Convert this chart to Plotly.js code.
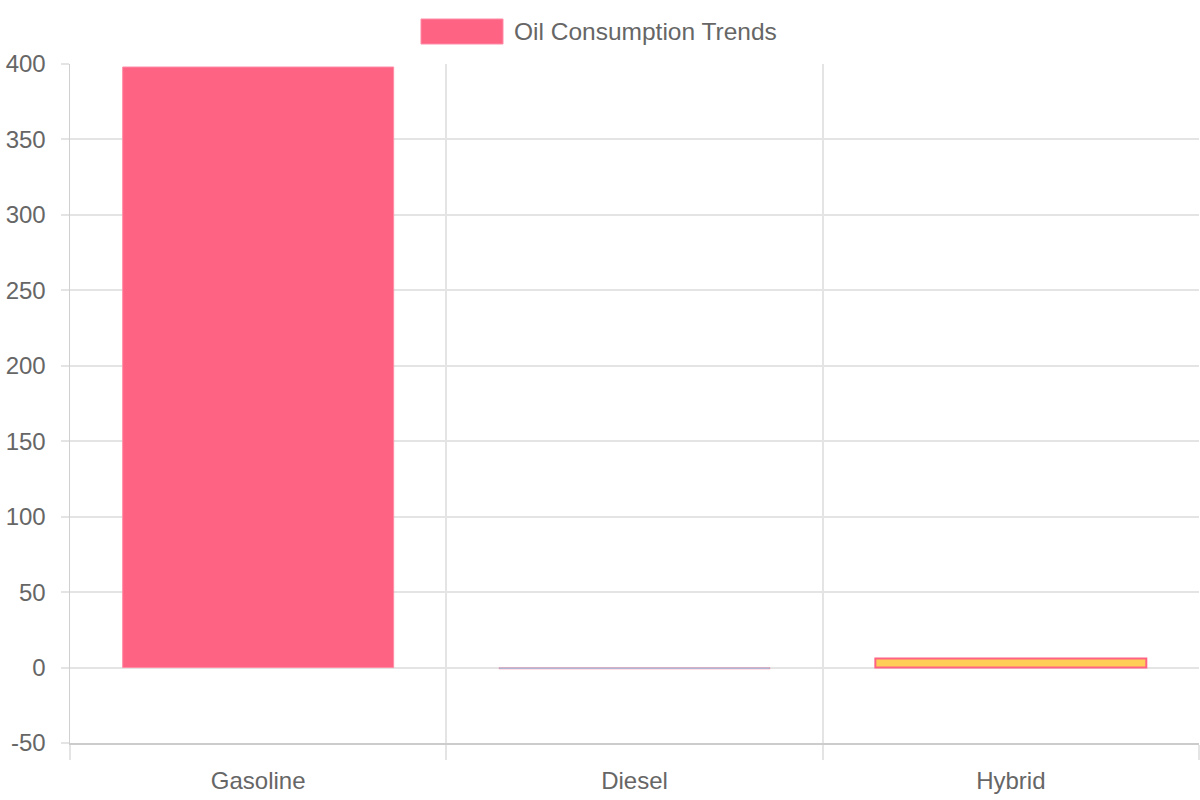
<!DOCTYPE html>
<html>
<head>
<meta charset="utf-8">
<script src="https://cdn.plot.ly/plotly-3.0.1.min.js"></script>
<style>
  html, body { margin: 0; padding: 0; background: #fff; }
  #chart { width: 1200px; height: 800px; }
</style>
</head>
<body>
<div id="chart"></div>
<script>
// ── Data ─────────────────────────────────────────────
const categories = ['Gasoline', 'Diesel', 'Hybrid'];
const consumption = [398, -1, 6];
const barFills = ['rgb(255,99,132)', 'rgba(54,162,235,0.4)', 'rgb(255,206,86)'];
const barBorders = ['rgba(255,140,165,1)', 'rgba(255,99,132,0.7)', 'rgb(255,99,132)'];
const seriesName = 'Oil Consumption Trends';
const yTicks = [-50, 0, 50, 100, 150, 200, 250, 300, 350, 400];
const yTickText = ['-50', '0', '50', '100', '150', '200', '250', '300', '350', '400'];

const TEXT = '#666666';
const GRID = '#e4e4e4';
const FONT = 'Liberation Sans, Arial, sans-serif';

const traces = [{
  type: 'bar',
  x: categories,
  y: consumption,
  name: seriesName,
  width: 0.72,
  marker: {
    color: barFills,
    line: { color: barBorders, width: [1, 0.5, 2] },
  },
  showlegend: false,
  hoverinfo: 'x+y',
}];

const layout = {
  width: 1200,
  height: 800,
  paper_bgcolor: '#ffffff',
  plot_bgcolor: '#ffffff',
  font: { family: FONT, color: TEXT, size: 24 },
  margin: { l: 70, r: 1, t: 64, b: 57 },
  showlegend: false,
  bargap: 0,
  xaxis: {
    type: 'category',
    range: [-0.5, 2.5],
    tickson: 'boundaries',
    ticks: 'outside',
    ticklen: 15,
    tickcolor: GRID,
    tickwidth: 2,
    ticklabelstandoff: 16,
    showgrid: true,
    gridcolor: GRID,
    gridwidth: 2,
    showline: true,
    linecolor: '#cccccc',
    linewidth: 1.5,
    tickfont: { family: FONT, color: TEXT, size: 24 },
    zeroline: false,
    fixedrange: true,
  },
  yaxis: {
    range: [-50, 400],
    tickvals: yTicks,
    ticktext: yTickText,
    ticks: 'outside',
    ticklen: 8,
    tickcolor: GRID,
    tickwidth: 2,
    ticklabelstandoff: 10,
    showgrid: true,
    gridcolor: GRID,
    gridwidth: 2,
    showline: true,
    linecolor: '#d0d0d0',
    linewidth: 1.5,
    zeroline: false,
    tickfont: { family: FONT, color: TEXT, size: 24 },
    fixedrange: true,
  },
  // Chart.js style legend: wide colour box + label, centred on top
  shapes: [{
    type: 'rect', xref: 'paper', yref: 'paper',
    x0: (421 - 70) / 1129, x1: (503 - 70) / 1129,
    y0: (743 - 44) / 679, y1: (743 - 19) / 679,
    fillcolor: barFills[0],
    line: { color: barBorders[0], width: 1 },
  }],
  annotations: [{
    xref: 'paper', yref: 'paper',
    x: (512 - 70) / 1129, y: (743 - 32) / 679,
    xanchor: 'left', yanchor: 'middle',
    text: seriesName,
    showarrow: false,
    font: { family: FONT, color: TEXT, size: 24.5 },
  }],
};

Plotly.newPlot('chart', traces, layout, { displayModeBar: false, staticPlot: true });
</script>
</body>
</html>
